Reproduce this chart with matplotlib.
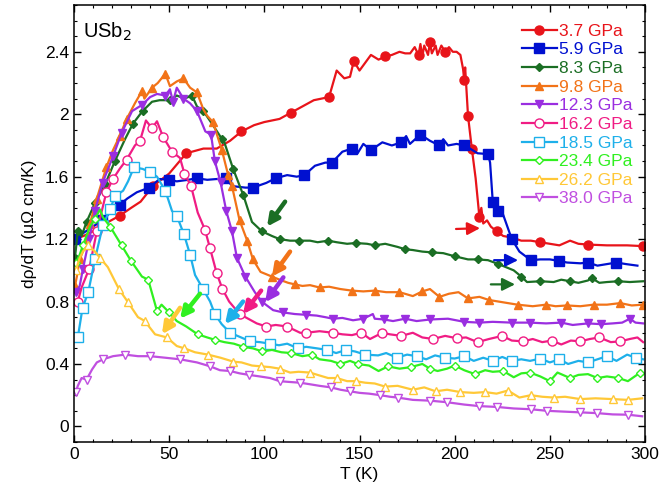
import matplotlib
matplotlib.use("Agg")
import matplotlib.pyplot as plt
from matplotlib.ticker import MultipleLocator, FuncFormatter

plt.rcParams["font.family"] = ["Liberation Sans", "DejaVu Sans"]

# pressures and curves
labels = ["3.7 GPa", "5.9 GPa", "8.3 GPa", "9.8 GPa", "12.3 GPa",
          "16.2 GPa", "18.5 GPa", "23.4 GPa", "26.2 GPa", "38.0 GPa"]

t37 = [0.5, 5, 10, 15, 24, 30, 35, 41.5, 50, 59, 68, 75, 82, 88, 94.6, 100, 108, 114, 120, 126,
       130, 134, 138, 142, 145, 147, 150, 153, 156, 160, 163.5, 167, 171, 174, 176.6, 179, 181, 182, 183, 184,
       186, 187, 188, 190, 191, 193, 195, 197, 199, 201, 203, 204.4, 205, 205.5, 207, 209, 211, 213, 214, 215,
       217, 219, 222, 225.5, 230, 235, 240, 245, 250, 255, 260.6, 265, 270, 280, 290.6, 299]
r37 = [1.20, 1.22, 1.25, 1.29, 1.35, 1.40, 1.44, 1.54, 1.62, 1.75, 1.78, 1.78, 1.83, 1.89, 1.93, 1.95, 1.97, 2.01, 2.05, 2.09,
       2.10, 2.11, 2.28, 2.23, 2.24, 2.34, 2.28, 2.33, 2.38, 2.35, 2.37, 2.38, 2.40, 2.39, 2.39, 2.43, 2.38, 2.45, 2.37, 2.44,
       2.38, 2.46, 2.39, 2.44, 2.38, 2.44, 2.40, 2.43, 2.40, 2.40, 2.38, 2.29, 2.22, 2.30, 1.99, 1.78, 1.59, 1.34, 1.40, 1.30,
       1.32, 1.28, 1.25, 1.22, 1.21, 1.19, 1.19, 1.18, 1.17, 1.16, 1.19, 1.17, 1.165, 1.16, 1.16, 1.155]

t59 = [0.5, 5, 10, 14.7, 20, 24, 28, 33, 39.5, 45, 50, 54, 60, 64.5, 70, 75, 80, 83, 90, 94,
       101, 106, 112, 117, 121, 126.6, 132, 135.5, 141, 146, 149, 152, 156, 162, 167, 172, 174.5, 176.5, 182, 187,
       192, 194, 196.5, 201, 205, 208, 212, 217.5, 218.6, 220, 223, 225.5, 230, 234, 240, 245, 250, 255, 259, 266,
       270, 275, 280, 285, 290, 296]
b59 = [1.20, 1.24, 1.28, 1.32, 1.38, 1.42, 1.46, 1.50, 1.53, 1.585, 1.58, 1.57, 1.58, 1.59, 1.58, 1.585, 1.59, 1.54, 1.53, 1.53,
       1.56, 1.59, 1.61, 1.60, 1.61, 1.67, 1.69, 1.69, 1.76, 1.78, 1.75, 1.81, 1.77, 1.82, 1.80, 1.82, 1.86, 1.81, 1.87, 1.83,
       1.80, 1.84, 1.80, 1.81, 1.80, 1.78, 1.75, 1.745, 1.69, 1.44, 1.38, 1.355, 1.20, 1.12, 1.065, 1.07, 1.07, 1.06, 1.05, 1.045,
       1.05, 1.03, 1.04, 1.05, 1.04, 1.03]

t83 = [0.5, 2, 4, 6.6, 11, 16.3, 21.5, 26.8, 31, 36, 41, 45, 50.4, 54, 58, 62, 64.6, 68, 73, 77.8,
       79, 83.6, 89, 93.5, 98.7, 104, 108, 113.5, 118, 124, 128, 133.5, 138, 143.5, 148, 154, 158, 163.5, 170, 174,
       178, 183, 188, 194, 200, 207, 212, 217.5, 223, 227, 231, 235, 238, 245, 252, 256, 260.6, 265, 270, 272,
       276, 280, 286, 292, 299]
g83 = [1.08, 1.25, 1.22, 1.31, 1.43, 1.55, 1.70, 1.84, 1.94, 2.02, 2.08, 2.09, 2.09, 2.12, 2.10, 2.12, 2.05, 2.02, 1.93, 1.84,
       1.82, 1.65, 1.48, 1.31, 1.25, 1.22, 1.20, 1.19, 1.19, 1.19, 1.18, 1.19, 1.18, 1.17, 1.175, 1.17, 1.16, 1.17, 1.15, 1.135,
       1.13, 1.12, 1.115, 1.11, 1.09, 1.07, 1.07, 1.065, 1.04, 1.02, 1.00, 0.96, 0.925, 0.93, 0.925, 0.94, 0.93, 0.92, 0.935, 0.95,
       0.92, 0.925, 0.93, 0.925, 0.93]

t98 = [0.5, 1.5, 3, 6, 8.4, 12, 17, 20.5, 24, 27.7, 32, 35.8, 37, 41, 44, 48, 50.4, 54, 57.5, 61,
       64.6, 68, 70, 73, 77.7, 81, 83, 87, 91, 94, 98, 104, 108, 112.5, 116, 120, 124, 129, 134, 140,
       146, 152, 158, 164, 171, 178, 183, 187, 192, 197, 202, 207, 213, 218, 223, 228, 233, 241, 248, 253,
       259, 266, 273, 280, 287, 293, 299]
o98 = [0.90, 0.96, 1.07, 1.16, 1.30, 1.46, 1.66, 1.77, 1.86, 1.97, 2.07, 2.15, 2.10, 2.17, 2.20, 2.26, 2.18, 2.21, 2.23, 2.17,
       2.14, 2.03, 1.99, 1.95, 1.77, 1.61, 1.54, 1.32, 1.19, 1.07, 0.99, 0.96, 0.94, 0.92, 0.91, 0.90, 0.905, 0.89, 0.895, 0.88,
       0.87, 0.865, 0.87, 0.86, 0.86, 0.835, 0.865, 0.88, 0.83, 0.85, 0.86, 0.82, 0.83, 0.81, 0.80, 0.79, 0.78, 0.77, 0.78, 0.77,
       0.775, 0.77, 0.78, 0.78, 0.79, 0.775, 0.78]

t123 = [1, 3, 4.7, 8, 11, 15, 20.5, 25, 30.5, 35.8, 40, 43.6, 48, 50.4, 52, 54, 57.5, 61, 64.6, 68,
        69, 72, 74, 77, 80, 83, 85.6, 90, 95, 98.6, 104.6, 110, 116, 122, 127.5, 132, 136, 141, 146.6, 152,
        157, 158, 163, 167.6, 174, 180, 187, 196.5, 205, 213, 220, 230, 239.6, 248, 256, 262, 270, 277, 283, 288,
        292, 295, 299]
p123 = [0.86, 0.90, 1.01, 1.20, 1.38, 1.56, 1.73, 1.88, 2.02, 2.06, 2.11, 2.13, 2.12, 2.16, 2.08, 2.17, 2.10, 2.07, 2.02, 1.92,
        1.89, 1.87, 1.70, 1.565, 1.38, 1.25, 1.08, 0.96, 0.86, 0.80, 0.745, 0.73, 0.72, 0.715, 0.71, 0.70, 0.69, 0.695, 0.68, 0.69,
        0.72, 0.69, 0.685, 0.675, 0.69, 0.675, 0.685, 0.69, 0.67, 0.665, 0.67, 0.665, 0.665, 0.66, 0.665, 0.65, 0.66, 0.655, 0.66, 0.665,
        0.69, 0.665, 0.66]

t162 = [2, 4, 8, 12, 17, 20.5, 24, 27.7, 32, 34.7, 37.8, 41, 43.6, 46.8, 51.5, 55.7, 58, 61.5, 65, 68.8,
        71.5, 75, 78, 81.5, 87, 91.5, 96, 101, 106, 112, 118.8, 122, 129, 136, 141, 146, 151, 155.5, 162, 166,
        172, 178, 183, 188.6, 195, 201, 206, 212, 218, 225, 230, 236, 241, 246, 251, 256, 261, 266, 271, 276,
        282, 287, 292, 296, 299]
k162 = [0.80, 0.89, 1.01, 1.25, 1.50, 1.585, 1.65, 1.71, 1.80, 1.83, 1.96, 1.91, 1.955, 1.855, 1.76, 1.72, 1.62, 1.54, 1.37, 1.26,
        1.14, 0.98, 0.88, 0.80, 0.72, 0.69, 0.66, 0.64, 0.65, 0.64, 0.60, 0.60, 0.61, 0.60, 0.59, 0.585, 0.60, 0.56, 0.60, 0.59,
        0.58, 0.60, 0.57, 0.56, 0.58, 0.565, 0.57, 0.54, 0.56, 0.58, 0.55, 0.545, 0.56, 0.54, 0.55, 0.525, 0.55, 0.545, 0.56, 0.57,
        0.54, 0.545, 0.56, 0.57, 0.54]

t185 = [2, 4.5, 7.5, 11, 15.2, 19, 21.5, 25.8, 28.4, 31.5, 36, 40, 43.6, 48, 51.5, 54, 57.8, 61, 63.6, 67.8,
        71.5, 74, 77.6, 82, 87.8, 92.5, 97.7, 103, 107.7, 112, 117.7, 122, 127.7, 133, 137.7, 143, 147.7, 153, 159.8, 164,
        169.7, 175, 180, 185, 189.7, 195, 200, 205, 210, 215, 220, 225, 230, 235, 239.6, 245, 250, 255, 259.6, 265,
        270, 275, 280, 285, 290.6, 295, 299]
c185 = [0.57, 0.76, 0.86, 1.07, 1.29, 1.39, 1.475, 1.51, 1.57, 1.66, 1.65, 1.63, 1.60, 1.51, 1.38, 1.35, 1.23, 1.10, 0.97, 0.88,
        0.80, 0.72, 0.655, 0.60, 0.57, 0.545, 0.54, 0.53, 0.52, 0.53, 0.50, 0.51, 0.50, 0.49, 0.47, 0.49, 0.48, 0.46, 0.455, 0.47,
        0.44, 0.46, 0.45, 0.43, 0.455, 0.44, 0.435, 0.45, 0.42, 0.44, 0.42, 0.445, 0.42, 0.43, 0.42, 0.435, 0.41, 0.43, 0.40, 0.42,
        0.41, 0.43, 0.45, 0.42, 0.46, 0.44, 0.43]

t234 = [1, 3, 4.7, 8.4, 11, 13.7, 15.2, 19, 25, 30, 35.7, 39, 43.6, 46, 50, 54, 59, 65, 70, 74,
        79, 84, 89, 94, 99, 104, 109, 114, 120, 125, 129, 135, 140, 145, 149, 155, 160, 165, 171, 177,
        183, 187, 191, 196, 200, 205, 210.7, 216, 220, 225.5, 231, 235, 239.6, 245, 250, 254, 260.6, 265, 270, 275,
        280, 286, 291, 297.5, 299]
gb234 = [1.05, 1.10, 1.16, 1.28, 1.33, 1.39, 1.34, 1.28, 1.16, 1.06, 0.96, 0.94, 0.74, 0.78, 0.73, 0.675, 0.64, 0.59, 0.57, 0.555,
         0.54, 0.53, 0.51, 0.50, 0.48, 0.49, 0.475, 0.47, 0.45, 0.46, 0.43, 0.42, 0.40, 0.42, 0.40, 0.39, 0.355, 0.385, 0.37, 0.38,
         0.40, 0.37, 0.355, 0.37, 0.39, 0.36, 0.335, 0.36, 0.35, 0.355, 0.315, 0.34, 0.345, 0.32, 0.29, 0.345, 0.31, 0.33, 0.335, 0.31,
         0.32, 0.31, 0.29, 0.345, 0.335]

t262 = [1, 3, 4.7, 7.4, 11, 13.7, 17.8, 23.6, 28.4, 33.6, 37.3, 39.4, 42.6, 48.8, 54, 58, 63.6, 70.4, 77, 83.7,
        88, 93.5, 98, 103, 108, 113.5, 118, 124, 128, 133.5, 138, 143.5, 148, 153, 158, 163.5, 170, 178, 184, 190,
        196, 203, 210, 216, 222, 228, 234, 240, 246, 252, 258, 266, 274, 283, 291, 298.5]
y262 = [1.00, 1.08, 1.12, 1.16, 1.12, 1.08, 1.02, 0.88, 0.795, 0.70, 0.675, 0.64, 0.59, 0.57, 0.515, 0.50, 0.475, 0.46, 0.44, 0.415,
        0.41, 0.39, 0.385, 0.38, 0.37, 0.345, 0.35, 0.345, 0.33, 0.31, 0.31, 0.29, 0.29, 0.28, 0.275, 0.255, 0.26, 0.235, 0.25, 0.225,
        0.235, 0.22, 0.215, 0.22, 0.21, 0.23, 0.185, 0.20, 0.19, 0.185, 0.19, 0.175, 0.18, 0.175, 0.17, 0.18]

t380 = [1, 2, 4, 6.6, 9.5, 12, 15.3, 20.5, 26.8, 33.6, 40, 48, 55.7, 64.6, 71.5, 76.7, 82, 87, 92, 97.7,
        103, 108, 113, 118.8, 124, 129, 135, 140, 145, 150, 155, 161, 166, 170, 178, 187, 196, 205, 213, 222,
        231, 240, 248.5, 257, 266, 275, 283, 291, 298.5]
v380 = [0.22, 0.26, 0.31, 0.30, 0.365, 0.41, 0.43, 0.45, 0.46, 0.45, 0.45, 0.44, 0.43, 0.41, 0.385, 0.36, 0.355, 0.34, 0.33, 0.32,
        0.31, 0.29, 0.285, 0.28, 0.27, 0.26, 0.25, 0.235, 0.225, 0.215, 0.21, 0.20, 0.19, 0.185, 0.17, 0.165, 0.155, 0.14, 0.13, 0.125,
        0.115, 0.11, 0.10, 0.095, 0.09, 0.085, 0.077, 0.075, 0.065]

# (tail T, tail y, head T, head y) for the arrows marking the kinks
arrow_tails_heads = [
    (200.7, 1.265, 213.3, 1.27),
    (220.7, 1.065, 233.3, 1.065),
    (219.0, 0.91, 231.7, 0.91),
    (110.9, 1.44, 101.4, 1.28),
    (113.5, 1.12, 104.0, 0.96),
    (110.0, 0.955, 100.4, 0.795),
    (98.3, 0.87, 88.8, 0.72),
    (88.8, 0.80, 79.3, 0.655),
    (66.2, 0.85, 55.7, 0.69),
    (55.7, 0.76, 46.2, 0.59),
]

series = [(t37, r37), (t59, b59), (t83, g83), (t98, o98), (t123, p123),
          (t162, k162), (t185, c185), (t234, gb234), (t262, y262), (t380, v380)]
colors = ["#e8141a", "#0010d0", "#1b6e24", "#f27318", "#9a2ee0",
          "#f01c84", "#1eb0ea", "#30f020", "#ffc837", "#c04fe0"]
markers = ["o", "s", "D", "^", "v", "o", "s", "D", "^", "v"]
sizes = [6.5, 6.5, 3.8, 5.5, 5.5, 6.5, 6.5, 4.5, 5.5, 5.5]
filled = [True, True, True, True, True, False, False, False, False, False]
every = [0.07, 0.04, 0.035, 0.035, 0.035, 0.035, 0.035, 0.035, 0.035, 0.035]
arrow_colors = [colors[0], colors[1], colors[2], colors[2], colors[3],
                colors[4], colors[5], colors[6], colors[7], colors[8]]

fig = plt.figure(figsize=(6.63, 4.98), dpi=100)
ax = fig.add_axes([0.1116, 0.1124, 0.8613, 0.8776])

for (t, r), c, m, ms, fill, ev, lab in zip(series, colors, markers, sizes, filled, every, labels):
    ax.plot(t, r, color=c, lw=1.6, marker=m, ms=ms, markevery=ev,
            mfc=c if fill else "white", mec=c, mew=1.0, label=lab)

for i, (x0, y0, x1, y1) in enumerate(arrow_tails_heads):
    horizontal = i < 3
    ax.annotate("", xy=(x1, y1), xytext=(x0, y0),
                arrowprops=dict(arrowstyle="-|>", color=arrow_colors[i],
                                lw=1.6 if horizontal else 3.2,
                                mutation_scale=19 if horizontal else 17,
                                shrinkA=0, shrinkB=0))

ax.set_xlim(0, 300)
ax.set_ylim(-0.1, 2.7)
ax.xaxis.set_major_locator(MultipleLocator(50))
ax.xaxis.set_minor_locator(MultipleLocator(10))
ax.yaxis.set_major_locator(MultipleLocator(0.4))
ax.yaxis.set_minor_locator(MultipleLocator(0.1))
ax.yaxis.set_major_formatter(FuncFormatter(lambda v, _: f"{v:g}"))
ax.tick_params(which="both", direction="in", top=True, right=True, labelsize=12.5)
ax.tick_params(which="major", length=5, width=1)
ax.tick_params(which="minor", length=2.5, width=0.8)
for s in ax.spines.values():
    s.set_linewidth(1.1)

ax.set_xlabel("T (K)", fontsize=12.5, labelpad=4)
ax.set_ylabel("dρ/dT (μΩ cm/K)", fontsize=12.5, labelpad=6)
ax.text(0.015, 0.965, "USb$_2$", transform=ax.transAxes, fontsize=14.5, va="top", ha="left")

leg = ax.legend(loc="upper right", bbox_to_anchor=(1.0, 0.985), frameon=False, fontsize=12.5,
                handlelength=2.0, handletextpad=0.15, labelspacing=0.2, borderaxespad=0.3)
for txt, c in zip(leg.get_texts(), colors):
    txt.set_color(c)

fig.savefig("out.png", dpi=100)
